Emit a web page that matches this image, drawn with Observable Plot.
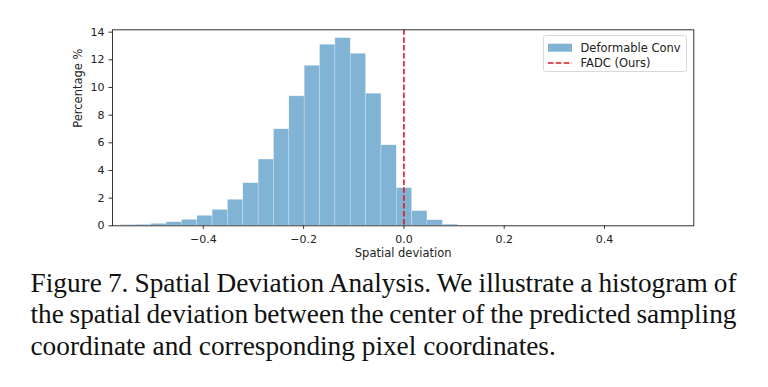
<!DOCTYPE html>
<html>
<head>
<meta charset="utf-8">
<script src="https://cdn.jsdelivr.net/npm/d3@7"></script>
<script src="https://cdn.jsdelivr.net/npm/@observablehq/plot@0.6"></script>
<style>
  html, body { margin: 0; padding: 0; background: #fff; }
  #wrap { position: relative; width: 768px; height: 387px; overflow: hidden; }
  #legend { position: absolute; left: 542.5px; top: 35px; width: 144px; height: 37px;
    border: 1px solid #d9d9d9; border-radius: 3px; background: rgba(255,255,255,0.85);
    box-sizing: border-box; font-family: "DejaVu Sans", sans-serif; font-size: 11.5px; color: #222; }
  .lg-row { position: absolute; left: 0; height: 14px; display: flex; align-items: center; }
  .lg-label { position: absolute; left: 37px; white-space: nowrap; line-height: 14px; }
  #caption { position: absolute; left: 30.5px; top: 267.7px; width: 706px;
    font-family: "Liberation Serif", "Times New Roman", serif; font-size: 27.3px; line-height: 31.5px; color: #111; }
  #caption .ln { white-space: nowrap; }
  #caption .just { text-align: justify; text-align-last: justify; word-spacing: -2.6px; }
</style>
</head>
<body>
<div id="wrap"></div>
<script>
// ---- data ----
const binEdges = [-0.5956, -0.5650, -0.5344, -0.5038, -0.4732, -0.4426, -0.4120, -0.3814, -0.3508,
  -0.3202, -0.2896, -0.2590, -0.2284, -0.1978, -0.1672, -0.1366, -0.1060, -0.0754, -0.0448,
  -0.0142, 0.0164, 0.0470, 0.0776, 0.1082, 0.1388, 0.1694];
const percentages = [0.02, 0.05, 0.07, 0.14, 0.26, 0.43, 0.72, 1.15, 1.88, 3.08, 4.79, 6.98, 9.36,
  11.57, 13.09, 13.57, 12.44, 9.55, 5.82, 2.72, 1.06, 0.40, 0.08, 0.02, 0.01];
const fadcValue = [0];
const xTicks = [-0.4, -0.2, 0.0, 0.2, 0.4];
const yTicks = [0, 2, 4, 6, 8, 10, 12, 14];
const xLabel = "Spatial deviation";
const yLabel = "Percentage %";
const seriesNames = ["Deformable Conv", "FADC (Ours)"];
const captionLines = [
  "Figure 7. Spatial Deviation Analysis. We illustrate a histogram of",
  "the spatial deviation between the center of the predicted sampling",
  "coordinate and corresponding pixel coordinates."
];

const rows = percentages.map((p, i) => ({x1: binEdges[i], x2: binEdges[i + 1], y: p}));
const fmtX = d => d.toFixed(1).replace("-", "\u2212");

const chart = Plot.plot({
  width: 768,
  height: 265,
  marginLeft: 112,
  marginRight: 74.7,
  marginTop: 29.3,
  marginBottom: 39.7,
  style: {fontFamily: "DejaVu Sans, sans-serif", fontSize: "11px", color: "#222", background: "transparent"},
  x: {domain: [-0.581, 0.578]},
  y: {domain: [0, 14.17]},
  marks: [
    Plot.rectY(rows, {x1: "x1", x2: "x2", y: "y", fill: "#1f77b4", fillOpacity: 0.56,
      stroke: "#ffffff", strokeWidth: 0.6, strokeOpacity: 0.45, clip: true, inset: 0}),
    Plot.ruleX(fadcValue, {stroke: "#e0181c", strokeWidth: 1.6, strokeDasharray: "5.5,2.4"}),
    Plot.frame({stroke: "#333", strokeWidth: 1}),
    Plot.axisX({ticks: xTicks, tickFormat: fmtX, tickSize: 3.5, tickPadding: 6, label: null, stroke: "#333"}),
    Plot.axisY({ticks: yTicks, tickFormat: d => String(d), tickSize: 3.5, tickPadding: 4.5, label: null, stroke: "#333"}),
    Plot.text([xLabel], {text: d => d, frameAnchor: "bottom", dy: 27.7, lineAnchor: "middle", fontSize: 11.5, fill: "#222"}),
    Plot.text([yLabel], {text: d => d, frameAnchor: "left", dx: -34, rotate: -90, lineAnchor: "middle", fontSize: 11.5, fill: "#222"})
  ]
});

const wrap = document.getElementById("wrap");
chart.style.position = "absolute";
chart.style.left = "0px";
chart.style.top = "0px";
wrap.appendChild(chart);

// legend
const legend = document.createElement("div");
legend.id = "legend";
const r1 = document.createElement("div");
r1.className = "lg-row"; r1.style.top = "4.5px";
r1.innerHTML = '<svg width="36" height="14"><rect x="4" y="2.7" width="24" height="8" fill="#1f77b4" fill-opacity="0.56"></rect></svg>';
const l1 = document.createElement("span"); l1.className = "lg-label"; l1.textContent = seriesNames[0]; l1.style.top = "0px";
r1.appendChild(l1);
const r2 = document.createElement("div");
r2.className = "lg-row"; r2.style.top = "20px";
r2.innerHTML = '<svg width="36" height="14"><line x1="4" x2="28" y1="7" y2="7" stroke="#e0181c" stroke-width="1.6" stroke-dasharray="5.5,2.4"></line></svg>';
const l2 = document.createElement("span"); l2.className = "lg-label"; l2.textContent = seriesNames[1]; l2.style.top = "0px";
r2.appendChild(l2);
legend.appendChild(r1); legend.appendChild(r2);
wrap.appendChild(legend);

// caption
const cap = document.createElement("div");
cap.id = "caption";
captionLines.forEach((t, i) => {
  const d = document.createElement("div");
  d.className = "ln" + (i < captionLines.length - 1 ? " just" : "");
  d.textContent = t;
  cap.appendChild(d);
});
wrap.appendChild(cap);
</script>
</body>
</html>
